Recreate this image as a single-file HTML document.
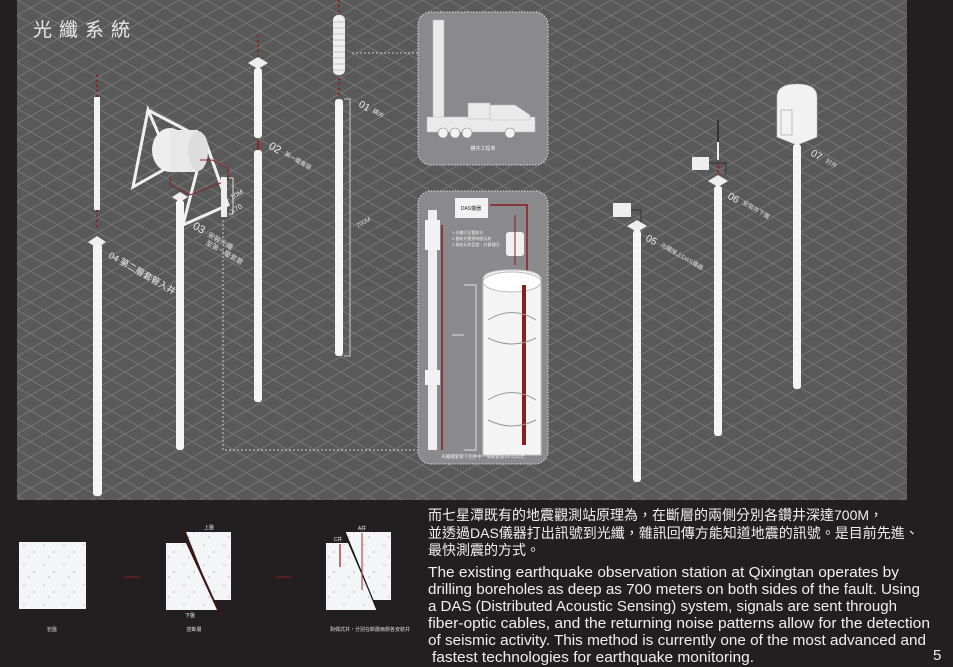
<!DOCTYPE html>
<html><head><meta charset="utf-8"><style>
html,body{margin:0;padding:0;background:#231f20;}
svg{display:block}
text{font-family:"Liberation Sans","Noto Sans CJK TC",sans-serif;}
</style></head><body>
<svg width="953" height="667" viewBox="0 0 953 667" xmlns="http://www.w3.org/2000/svg">
<defs>
<pattern id="g" width="54" height="31" patternUnits="userSpaceOnUse" x="17" y="0">
<rect width="54" height="31" fill="#595959"/>
<path d="M0 0L54 31M54 0L0 31M0 15.5L27 0M27 31L54 15.5M0 15.5L27 31M27 0L54 15.5" stroke="#7a7a7a" stroke-width="0.8" fill="none"/>
</pattern>
<pattern id="sp" width="20" height="20" patternUnits="userSpaceOnUse">
<rect width="20" height="20" fill="#f4f5f6"/>
<circle cx="4" cy="5" r="0.8" fill="#b8c0c6"/><circle cx="14" cy="12" r="1" fill="#c5ccd1"/><circle cx="9" cy="17" r="0.7" fill="#aab2b8"/>
</pattern>
</defs>
<rect width="953" height="667" fill="#231f20"/>
<rect x="17" y="0" width="890" height="500" fill="url(#g)"/>
<text x="33" y="36" font-size="19" fill="#e8e8e8" letter-spacing="7">光纖系統</text>

<!-- 04 -->
<line x1="97" y1="75" x2="97" y2="230" stroke="#9b1c1c" stroke-width="2" stroke-dasharray="2 3"/>
<rect x="94" y="97" width="6" height="113" fill="#f2f2f2"/>
<path d="M88 242L97 236L106 242L97 248Z" fill="#eee"/>
<rect x="93" y="244" width="9" height="252" rx="3" fill="#f5f5f5"/>
<text x="108" y="257" font-size="9" fill="#eee" transform="rotate(30 108 257)">04 第二層套管入井</text>

<!-- 03 winch -->
<g stroke="#f0f0f0" stroke-width="3" fill="none">
<path d="M148 110L133 187L172 165Z"/><path d="M148 110L205 140"/><path d="M205 140L183 225L228 205Z"/>
</g>
<ellipse cx="170" cy="150" rx="18" ry="22" fill="#eee"/>
<rect x="170" y="130" width="28" height="42" fill="#e8e8e8"/>
<ellipse cx="198" cy="151" rx="10" ry="20" fill="#ddd"/>
<path d="M200 160L212 160L228 168L228 180L190 195L170 185L170 177" stroke="#8a2020" fill="none"/>
<path d="M172 197L180 192L188 197L180 202Z" fill="#eee"/>
<rect x="176" y="200" width="8" height="250" rx="3" fill="#f5f5f5"/>
<rect x="221" y="177" width="6" height="40" fill="#eee"/>
<path d="M229 178L233 178L233 214L229 214" stroke="#ddd" fill="none"/>
<text x="232" y="200" font-size="7" fill="#eee" transform="rotate(-30 232 200)">10M</text>
<text x="232" y="214" font-size="7" fill="#eee" transform="rotate(-30 232 214)">X70</text>
<text x="192" y="228" font-size="11" fill="#eee" transform="rotate(30 192 228)">03</text>
<text x="207" y="236" font-size="7" fill="#ddd" transform="rotate(30 207 236)">安裝光纖</text>
<text x="205" y="244" font-size="7" fill="#ddd" transform="rotate(30 205 244)">至第一層套管</text>
<path d="M223 220L223 450L418 450" stroke="#ccc" stroke-dasharray="2 2" fill="none"/>

<!-- 02 -->
<line x1="258" y1="35" x2="258" y2="58" stroke="#9b1c1c" stroke-width="2" stroke-dasharray="2 3"/>
<path d="M248 63L258 57L268 63L258 69Z" fill="#eee"/>
<rect x="254" y="68" width="8" height="70" rx="3" fill="#f5f5f5"/>
<line x1="258" y1="140" x2="258" y2="150" stroke="#9b1c1c" stroke-width="2"/>
<rect x="254" y="150" width="8" height="252" rx="3" fill="#f5f5f5"/>
<text x="268" y="148" font-size="11" fill="#eee" transform="rotate(30 268 148)">02</text>
<text x="284" y="155" font-size="6" fill="#ddd" transform="rotate(30 284 155)">第一層套管</text>

<!-- 01 -->
<line x1="339" y1="0" x2="339" y2="15" stroke="#9b1c1c" stroke-width="2" stroke-dasharray="2 3"/>
<rect x="333" y="15" width="12" height="60" rx="5" fill="#eee"/>
<g stroke="#999" stroke-width="0.6"><path d="M333 22H345M333 28H345M333 34H345M333 40H345M333 46H345M333 52H345M333 58H345M333 64H345M333 70H345"/></g>
<line x1="339" y1="78" x2="339" y2="97" stroke="#9b1c1c" stroke-width="2" stroke-dasharray="2 3"/>
<rect x="335" y="99" width="8" height="257" rx="3" fill="#f5f5f5"/>
<path d="M344 99H350V356H344" stroke="#ccc" fill="none"/>
<text x="358" y="106" font-size="10" fill="#eee" transform="rotate(30 358 106)">01</text>
<text x="372" y="112" font-size="6" fill="#ddd" transform="rotate(30 372 112)">鑽井</text>
<text x="358" y="228" font-size="6" fill="#ddd" transform="rotate(-30 358 228)">700M</text>
<line x1="352" y1="53" x2="418" y2="53" stroke="#ccc" stroke-dasharray="2 2"/>

<!-- panel 1 -->
<rect x="418" y="12" width="130" height="153" rx="13" fill="#8a8a8c" stroke="#ddd" stroke-dasharray="1.5 1.5"/>
<g fill="#eaeaea" stroke="#bbb" stroke-width="0.5">
<rect x="433" y="20" width="11" height="105"/>
<rect x="427" y="117" width="108" height="15"/>
<rect x="468" y="103" width="22" height="16"/>
<path d="M490 105L515 105L530 115L530 120L490 120Z"/>
</g>
<g fill="#f2f2f2" stroke="#888" stroke-width="0.6"><circle cx="443" cy="133" r="5"/><circle cx="455" cy="133" r="5"/><circle cx="467" cy="133" r="5"/><circle cx="510" cy="133" r="5"/></g>
<text x="483" y="150" font-size="5" fill="#eee" text-anchor="middle">鑽井工程車</text>

<!-- panel 2 -->
<rect x="418" y="191" width="130" height="273" rx="13" fill="#8a8a8c" stroke="#ddd" stroke-dasharray="1.5 1.5"/>
<rect x="455" y="198" width="33" height="20" fill="#f2f2f2"/>
<text x="471" y="210" font-size="5" fill="#222" text-anchor="middle">DAS儀器</text>
<path d="M490 205H527V300" stroke="#8a1e1e" stroke-width="1.5" fill="none"/>
<rect x="506" y="232" width="18" height="24" rx="3" fill="#f0f0f0"/>
<line x1="515" y1="215" x2="515" y2="265" stroke="#8a1e1e"/>
<text x="452" y="234" font-size="4" fill="#eee">1.光纖打出雷射光</text>
<text x="452" y="240" font-size="4" fill="#eee">2.雷射光遇到時間反射</text>
<text x="452" y="246" font-size="4" fill="#eee">3.接收反射音波、計算發回</text>
<rect x="428" y="210" width="9" height="240" fill="#eee"/>
<rect x="425" y="220" width="15" height="30" fill="#f2f2f2"/>
<rect x="425" y="370" width="15" height="15" fill="#f2f2f2"/>
<line x1="442" y1="225" x2="442" y2="450" stroke="#8a1e1e" stroke-width="1.5"/>
<path d="M483 280Q483 270 512 270Q541 270 541 280V455H483Z" fill="#f4f4f4" stroke="#ccc"/>
<ellipse cx="512" cy="282" rx="29" ry="10" fill="#fff" stroke="#bbb"/>
<rect x="522" y="285" width="4" height="160" fill="#8a1e1e"/>
<path d="M488 320Q512 305 536 320M488 338Q512 350 536 338M488 400Q512 385 536 400M488 420Q512 432 536 420" stroke="#999" fill="none"/>
<path d="M464 285H476V450H464M464 335H452" stroke="#ddd" fill="none"/>
<text x="483" y="458" font-size="4.5" fill="#eee" text-anchor="middle">光纖隨套管下到井中，每根套管10-12公尺</text>

<!-- 05 -->
<rect x="613" y="203" width="18" height="14" fill="#eee"/>
<path d="M631 210H641V222" stroke="#333" fill="none"/>
<path d="M627 226L637 220L647 226L637 232Z" fill="#eee"/>
<rect x="633" y="230" width="8" height="252" rx="3" fill="#f5f5f5"/>
<text x="645" y="240" font-size="10" fill="#eee" transform="rotate(30 645 240)">05</text>
<text x="660" y="246" font-size="6" fill="#ddd" transform="rotate(30 660 246)">光纖接上DAS儀器</text>

<!-- 06 -->
<line x1="718" y1="120" x2="718" y2="160" stroke="#333" stroke-width="2"/>
<line x1="718" y1="142" x2="718" y2="160" stroke="#eee" stroke-width="2"/>
<line x1="718" y1="162" x2="718" y2="176" stroke="#9b1c1c" stroke-width="2" stroke-dasharray="2 2"/>
<rect x="692" y="157" width="17" height="13" fill="#eee"/>
<path d="M709 163H726V175" stroke="#333" fill="none"/>
<path d="M708 181L718 175L728 181L718 187Z" fill="#eee"/>
<rect x="714" y="186" width="8" height="250" rx="3" fill="#f5f5f5"/>
<text x="727" y="198" font-size="10" fill="#eee" transform="rotate(30 727 198)">06</text>
<text x="742" y="204" font-size="6" fill="#ddd" transform="rotate(30 742 204)">安裝井下儀</text>

<!-- 07 -->
<path d="M777 97Q777 84 797 84Q817 84 817 97V137L797 145L777 137Z" fill="#f2f2f2" stroke="#bbb" stroke-width="0.6"/>
<rect x="781" y="110" width="11" height="25" fill="none" stroke="#999" stroke-width="0.6"/>
<rect x="793" y="144" width="8" height="245" rx="3" fill="#f5f5f5"/>
<text x="810" y="155" font-size="10" fill="#eee" transform="rotate(30 810 155)">07</text>
<text x="825" y="162" font-size="6" fill="#ddd" transform="rotate(30 825 162)">封井</text>

<!-- bottom diagrams -->
<rect x="19" y="542" width="67" height="67" fill="url(#sp)"/>
<text x="52" y="631" font-size="5" fill="#ddd" text-anchor="middle">岩盤</text>
<line x1="124" y1="577" x2="140" y2="577" stroke="#8a1e1e"/>
<path d="M186 532H231V600H213Z" fill="url(#sp)"/>
<path d="M166 543H186L217 610H166Z" fill="url(#sp)"/>
<line x1="182" y1="530" x2="222" y2="618" stroke="#4a1010" stroke-width="1.5"/>
<text x="209" y="529" font-size="5" fill="#eee" text-anchor="middle">上盤</text>
<text x="190" y="617" font-size="5" fill="#eee" text-anchor="middle">下盤</text>
<text x="194" y="631" font-size="5" fill="#ddd" text-anchor="middle">逆斷層</text>
<line x1="276" y1="577" x2="291" y2="577" stroke="#8a1e1e"/>
<path d="M345 532H391V600H373Z" fill="url(#sp)"/>
<path d="M326 543H348L377 610H326Z" fill="url(#sp)"/>
<line x1="345" y1="532" x2="377" y2="610" stroke="#111" stroke-width="1.2"/>
<line x1="340" y1="544" x2="340" y2="567" stroke="#8a1e1e" stroke-width="1.2"/>
<line x1="362" y1="533" x2="362" y2="590" stroke="#b05050" stroke-width="1.2"/>
<text x="338" y="541" font-size="5" fill="#eee" text-anchor="middle">C井</text>
<text x="362" y="530" font-size="5" fill="#eee" text-anchor="middle">A井</text>
<text x="370" y="631" font-size="5" fill="#ddd" text-anchor="middle">對偶式井，分別在斷層兩側各安裝井</text>

<!-- text -->
<g fill="#f0f0f0" font-size="14">
<text x="428" y="520">而七星潭既有的地震觀測站原理為，在斷層的兩側分別各鑽井深達700M，</text>
<text x="428" y="538">並透過DAS儀器打出訊號到光纖，雜訊回傳方能知道地震的訊號。是目前先進、</text>
<text x="428" y="555">最快測震的方式。</text>
</g>
<g fill="#f0f0f0" font-size="15">
<text x="428" y="577" textLength="471" lengthAdjust="spacingAndGlyphs">The existing earthquake observation station at Qixingtan operates by</text>
<text x="428" y="594" textLength="492" lengthAdjust="spacingAndGlyphs">drilling boreholes as deep as 700 meters on both sides of the fault. Using</text>
<text x="428" y="611" textLength="469" lengthAdjust="spacingAndGlyphs">a DAS (Distributed Acoustic Sensing) system, signals are sent through</text>
<text x="428" y="628" textLength="502" lengthAdjust="spacingAndGlyphs">fiber-optic cables, and the returning noise patterns allow for the detection</text>
<text x="428" y="645" textLength="498" lengthAdjust="spacingAndGlyphs">of seismic activity. This method is currently one of the most advanced and</text>
<text x="432" y="662" textLength="322" lengthAdjust="spacingAndGlyphs">fastest technologies for earthquake monitoring.</text>
<text x="933" y="660">5</text>
</g>
</svg>
</body></html>
